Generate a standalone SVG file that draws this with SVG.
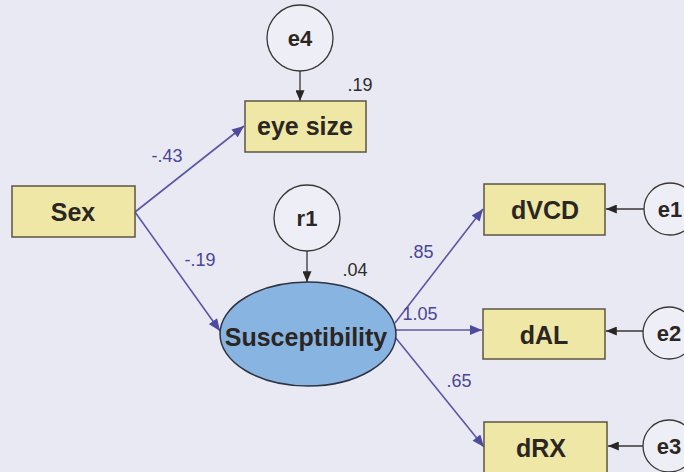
<svg xmlns="http://www.w3.org/2000/svg" width="684" height="472" viewBox="0 0 684 472">
  <defs>
    <style>
      .bg { fill: #e9e9f4; }
      .box { fill: #eee7a6; stroke: #5e5444; stroke-width: 1.5; }
      .err { fill: #eeeef6; stroke: #3a3533; stroke-width: 1.3; }
      .latent { fill: #88b4e2; stroke: #2f3340; stroke-width: 1.5; }
      .lbl { font-family: "Liberation Sans", Arial, sans-serif; font-weight: bold; font-size: 25px; fill: #2b2622; text-anchor: middle; }
      .elbl { font-family: "Liberation Sans", Arial, sans-serif; font-weight: bold; font-size: 22px; fill: #2b2622; text-anchor: middle; }
      .coef { font-family: "Liberation Sans", Arial, sans-serif; font-size: 18px; fill: #4b4694; text-anchor: middle; }
      .r2 { font-family: "Liberation Sans", Arial, sans-serif; font-size: 18px; fill: #2e2b2b; text-anchor: middle; }
      .path { stroke: #5b57a6; stroke-width: 1.6; fill: none; marker-end: url(#headBlue); }
      .resid { stroke: #3a3533; stroke-width: 1.3; fill: none; marker-end: url(#headDark); }
    </style>
    <marker id="headBlue" viewBox="0 0 12 10" refX="12" refY="5" markerWidth="13" markerHeight="10" markerUnits="userSpaceOnUse" orient="auto">
      <path d="M0,0 L12,5 L0,10 z" fill="#4e4a9e"/>
    </marker>
    <marker id="headDark" viewBox="0 0 12 10" refX="12" refY="5" markerWidth="11" markerHeight="9" markerUnits="userSpaceOnUse" orient="auto">
      <path d="M0,0 L12,5 L0,10 z" fill="#2a2624"/>
    </marker>
  </defs>

  <rect class="bg" x="0" y="0" width="684" height="472"/>

  <!-- structural paths and residual arrows -->
  <g id="connectors">
    <line class="resid" x1="300" y1="71" x2="300" y2="101"/>
    <line class="resid" x1="307" y1="251" x2="307" y2="282"/>
    <line class="resid" x1="644" y1="209" x2="606" y2="209"/>
    <line class="resid" x1="643" y1="331" x2="606" y2="331"/>
    <line class="resid" x1="643" y1="446" x2="608" y2="446"/>
    <line class="path" x1="135" y1="212" x2="244" y2="126"/>
    <line class="path" x1="135" y1="212" x2="220" y2="331"/>
    <line class="path" x1="395" y1="323" x2="483" y2="209"/>
    <line class="path" x1="396" y1="330" x2="482" y2="330"/>
    <line class="path" x1="395" y1="337" x2="484" y2="447"/>
  </g>

  <!-- path coefficients and explained variance -->
  <g id="estimates">
    <text class="coef" x="167" y="162">-.43</text>
    <text class="coef" x="200" y="266">-.19</text>
    <text class="r2" x="360" y="91">.19</text>
    <text class="r2" x="355" y="276">.04</text>
    <text class="coef" x="421" y="258">.85</text>
    <text class="coef" x="420" y="320">1.05</text>
    <text class="coef" x="459" y="387">.65</text>
  </g>

  <g id="e4">
    <circle class="err" cx="300" cy="38" r="33"/>
    <text class="elbl" x="300" y="46">e4</text>
  </g>
  <g id="eye-size">
    <rect class="box" x="245" y="101" width="121" height="51"/>
    <text class="lbl" x="305" y="135">eye size</text>
  </g>
  <g id="sex">
    <rect class="box" x="12" y="186" width="123" height="51"/>
    <text class="lbl" x="73" y="221">Sex</text>
  </g>
  <g id="r1">
    <circle class="err" cx="307" cy="218" r="33"/>
    <text class="elbl" x="307" y="226">r1</text>
  </g>
  <g id="susceptibility">
    <ellipse class="latent" cx="308" cy="334" rx="88" ry="52"/>
    <text class="lbl" x="306" y="346">Susceptibility</text>
  </g>
  <g id="dVCD">
    <rect class="box" x="484" y="184" width="121" height="51"/>
    <text class="lbl" x="545" y="219">dVCD</text>
  </g>
  <g id="dAL">
    <rect class="box" x="483" y="309" width="122" height="50"/>
    <text class="lbl" x="544" y="344">dAL</text>
  </g>
  <g id="dRX">
    <rect class="box" x="484" y="422" width="123" height="51"/>
    <text class="lbl" x="541" y="457">dRX</text>
  </g>
  <g id="e1">
    <circle class="err" cx="670" cy="209" r="26"/>
    <text class="elbl" x="670" y="217">e1</text>
  </g>
  <g id="e2">
    <circle class="err" cx="669" cy="333" r="26"/>
    <text class="elbl" x="669" y="341">e2</text>
  </g>
  <g id="e3">
    <circle class="err" cx="669" cy="446" r="26"/>
    <text class="elbl" x="669" y="454">e3</text>
  </g>
</svg>
